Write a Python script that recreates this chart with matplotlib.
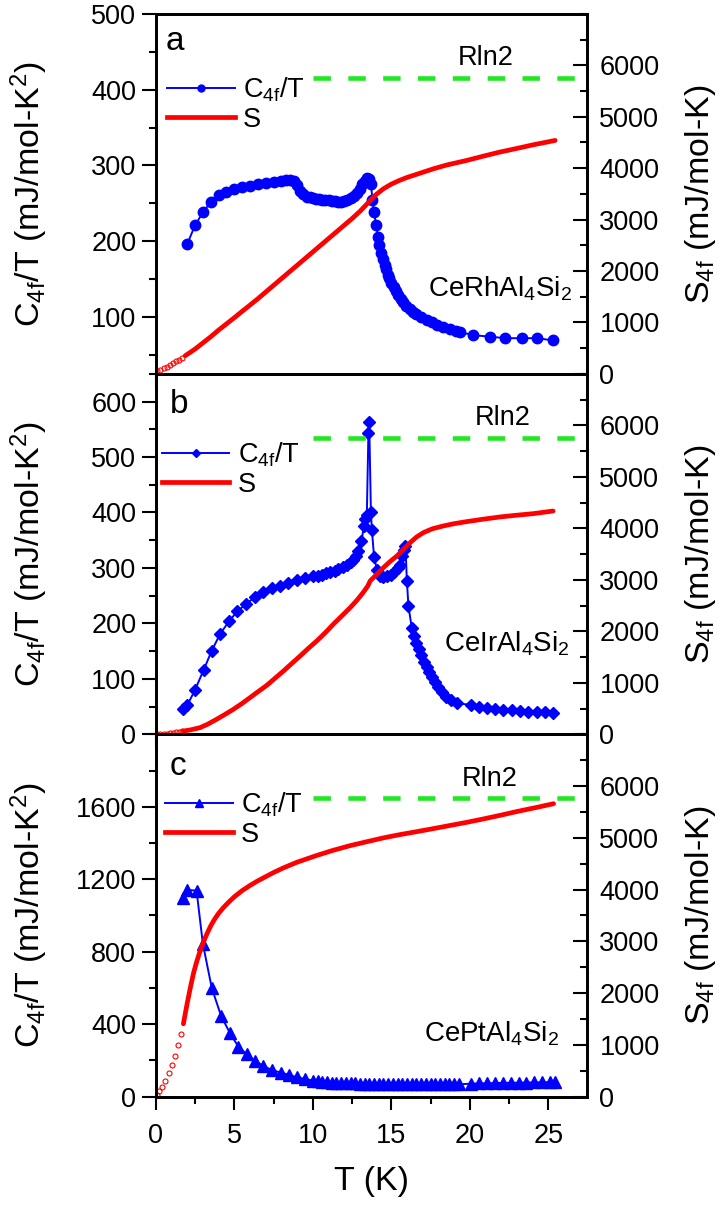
import matplotlib
matplotlib.use('Agg')
import matplotlib.pyplot as plt
from matplotlib.lines import Line2D
from matplotlib.ticker import MultipleLocator, FixedLocator

plt.rcParams['font.family'] = ['Liberation Sans', 'DejaVu Sans']
plt.rcParams['mathtext.default'] = 'regular'

# ---- panel a : CeRhAl4Si2 ----
a_T = [2.0, 2.5, 3.0, 3.5, 4.0, 4.5, 5.0, 5.5, 6.0, 6.5, 7.0, 7.5, 8.0, 8.3, 8.55,
       8.8, 9.0, 9.2, 9.4, 9.6, 9.8, 10.0, 10.2, 10.4, 10.6, 10.8, 11.0, 11.2, 11.4,
       11.6, 11.8, 12.0, 12.2, 12.4, 12.6, 12.8, 13.0, 13.15, 13.3, 13.45, 13.6, 13.7,
       13.8, 13.9, 14.03, 14.15, 14.24, 14.35, 14.46, 14.57, 14.67, 14.78, 14.88, 15.0,
       15.14, 15.3, 15.45, 15.6, 15.77, 15.95, 16.2, 16.4, 16.6, 16.9, 17.26, 17.6,
       17.9, 18.3, 18.75, 19.1, 19.4, 20.2, 21.3, 22.25, 23.3, 24.3, 25.3]
a_C = [196, 221, 238, 252, 261, 265, 269, 271, 273, 275, 277, 278, 280, 281, 281,
       279, 274, 266, 262, 259, 258, 257, 256, 256, 255, 254, 254, 253, 253,
       252, 252, 253, 255, 257, 260, 264, 269, 275, 280, 283, 282, 275,
       255, 238, 221, 206, 195, 185, 177, 169, 163, 156, 151, 145,
       140, 134, 129, 124, 120, 115, 111, 107, 104, 100, 96, 93,
       90, 87, 84, 81, 80, 76, 74, 72, 72, 72, 69]
a_Sx_T = [0.1, 0.3, 0.5, 0.7, 0.9, 1.1, 1.3, 1.5, 1.7]
a_Sx = [45, 75, 105, 140, 170, 205, 240, 275, 310]
a_ST = [1.87, 2.5, 3.0, 3.5, 4.0, 4.5, 5.0, 5.5, 6.0, 6.5, 7.0, 7.5, 8.0, 8.5, 9.0,
        9.5, 10.0, 10.5, 11.0, 11.5, 12.0, 12.5, 13.0, 13.5, 14.0, 14.5, 15.0, 15.5,
        16.0, 16.5, 17.0, 17.7, 18.5, 19.8, 21.0, 21.9, 23.0, 24.05, 25.43]
a_S = [350, 480, 600, 720, 850, 970, 1090, 1215, 1336, 1460, 1590, 1720, 1850, 1980,
       2110, 2240, 2370, 2500, 2630, 2760, 2890, 3020, 3160, 3320, 3480, 3600, 3690,
       3760, 3820, 3870, 3920, 3990, 4060, 4151, 4245, 4313, 4385, 4456, 4540]

# ---- panel b : CeIrAl4Si2 ----
b_T = [1.76, 2.0, 2.5, 3.05, 3.57, 4.1, 4.67, 5.2, 5.75, 6.3, 6.85, 7.4, 7.9, 8.45,
       8.98, 9.5, 10.04, 10.3, 10.57, 10.85, 11.1, 11.4, 11.63, 11.9, 12.17, 12.4,
       12.59, 12.75, 12.9, 13.1, 13.25, 13.33, 13.44, 13.54, 13.59, 13.7, 13.76, 13.9,
       14.08, 14.29, 14.5, 14.75, 15.0, 15.2, 15.4, 15.56, 15.7, 15.8, 15.9, 15.99,
       16.09, 16.3, 16.45, 16.6, 16.75, 16.9, 17.1, 17.26, 17.42, 17.58, 17.8, 18.0,
       18.25, 18.5, 18.8, 19.17, 20.1, 20.6, 21.08, 21.6, 22.14, 22.7, 23.2, 23.7,
       24.27, 24.8, 25.3]
b_C = [45, 52, 80, 116, 151, 181, 204, 222, 235, 247, 256, 263, 268, 272,
       278, 282, 285, 286, 288, 290, 292, 295, 298, 302, 306, 310,
       315, 322, 330, 348, 375, 388, 396, 544, 563, 400, 369, 320,
       297, 286, 284, 285, 288, 293, 300, 306, 322, 333, 339, 276,
       231, 192, 178, 165, 154, 143, 131, 122, 113, 104, 95, 86,
       77, 68, 61, 56, 53, 50, 47, 45, 44, 43, 42, 41,
       41, 40, 38]
b_Sx_T = [0.1, 0.3, 0.5, 0.7, 0.9, 1.1, 1.3, 1.5, 1.7]
b_Sx = [2, 5, 10, 16, 22, 30, 38, 48, 60]
b_ST = [1.76, 2.2, 2.82, 3.3, 3.87, 4.4, 4.94, 5.5, 6.0, 6.5, 7.07, 7.6, 8.13, 8.66,
        9.19, 9.7, 10.25, 10.8, 11.3, 11.85, 12.38, 12.8, 13.2, 13.5, 13.65, 14.0,
        14.5, 14.9, 15.35, 15.8, 16.2, 16.6, 17.04, 17.6, 18.3, 19.0, 19.8, 20.8,
        21.9, 23.0, 24.05, 25.3]
b_S = [64, 85, 130, 195, 291, 385, 485, 600, 712, 825, 951, 1090, 1229, 1375,
       1520, 1665, 1812, 1975, 2136, 2300, 2460, 2600, 2751, 2880, 2977, 3085,
       3237, 3350, 3462, 3600, 3722, 3830, 3916, 3990, 4045, 4090, 4130, 4175,
       4220, 4255, 4285, 4336]

# ---- panel c : CePtAl4Si2 ----
c_T = [1.76, 1.97, 2.6, 3.0, 3.57, 4.16, 4.73, 5.26, 5.8, 6.32, 6.85, 7.39, 7.96,
       8.51, 8.98, 9.51, 10.04, 10.3, 10.6, 10.9, 11.2, 11.5, 11.8, 12.1, 12.4, 12.7,
       13.0, 13.3, 13.6, 13.9, 14.2, 14.5, 14.8, 15.1, 15.4, 15.7, 16.0, 16.3, 16.6,
       16.9, 17.2, 17.5, 17.8, 18.1, 18.4, 18.7, 19.0, 19.3, 20.1, 20.6, 21.1, 21.6,
       22.1, 22.6, 23.1, 23.6, 24.1, 24.6, 25.1, 25.4]
c_C = [1096, 1142, 1137, 844, 599, 446, 350, 276, 234, 197, 170, 147, 133,
       120, 107, 98, 88, 84, 82, 80, 78, 77, 76, 75, 74, 73,
       72, 71, 71, 70, 70, 69, 69, 69, 68, 68, 68, 68, 68,
       68, 68, 68, 68, 68, 68, 68, 68, 68, 72, 73, 74, 75,
       76, 77, 77, 78, 79, 79, 80, 80]
c_Sx_T = [0.06, 0.23, 0.38, 0.59, 0.85, 1.02, 1.23, 1.44, 1.61]
c_Sx = [33, 118, 196, 294, 459, 603, 785, 1001, 1211]
c_ST = [1.76, 2.0, 2.2, 2.4, 2.6, 2.8, 3.0, 3.25, 3.5, 3.75, 4.0, 4.3, 4.65, 5.0,
        5.5, 6.0, 6.5, 7.0, 7.5, 8.13, 9.0, 10.25, 11.3, 12.38, 13.5, 14.5, 15.5,
        16.62, 17.7, 18.75, 19.8, 20.87, 22.0, 23.0, 24.2, 25.33]
c_S = [1407, 1800, 2100, 2380, 2600, 2790, 2960, 3140, 3300, 3430, 3540, 3650, 3760,
       3860, 3980, 4080, 4170, 4250, 4330, 4420, 4530, 4660, 4760, 4850, 4930, 5000,
       5060, 5120, 5180, 5240, 5300, 5366, 5440, 5509, 5585, 5660]

Rln2 = 5763.0
names = ['CeRhAl$_4$Si$_2$', 'CeIrAl$_4$Si$_2$', 'CePtAl$_4$Si$_2$']
letters = ['a', 'b', 'c']

BLUE = '#0000ff'
RED = '#ff0000'
GREEN = '#22e822'
TICK_FS = 19.5
LABEL_FS = 24.5

fig = plt.figure(figsize=(7.21, 12.05), dpi=100)
L, W = 0.216, 0.598
boxes = [(0.6898, 0.2986), (0.3906, 0.2992), (0.0899, 0.3007)]

panels = [
    dict(T=a_T, C=a_C, xT=a_Sx_T, xS=a_Sx, sT=a_ST, S=a_S, mk='o', ms=7.5, lms=5,
         ylim=(25, 500), yt=[100, 200, 300, 400, 500], ymin=50,
         leg=(0.026, 0.75), rl=19.2, name=(0.965, 0.214), let=(0.022, 0.90)),
    dict(T=b_T, C=b_C, xT=b_Sx_T, xS=b_Sx, sT=b_ST, S=b_S, mk='D', ms=6.5, lms=4.5,
         ylim=(0, 650), yt=[0, 100, 200, 300, 400, 500, 600], ymin=50,
         leg=(0.014, 0.736), rl=20.3, name=(0.961, 0.229), let=(0.033, 0.89)),
    dict(T=c_T, C=c_C, xT=c_Sx_T, xS=c_Sx, sT=c_ST, S=c_S, mk='^', ms=8, lms=6,
         ylim=(0, 2000), yt=[0, 400, 800, 1200, 1600], ymin=200,
         leg=(0.022, 0.766), rl=19.5, name=(0.936, 0.152), let=(0.033, 0.889)),
]

for i, p in enumerate(panels):
    ax = fig.add_axes([L, boxes[i][0], W, boxes[i][1]])
    ax2 = ax.twinx()

    ax.plot(p['T'], p['C'], color=BLUE, lw=1.4, marker=p['mk'], ms=p['ms'],
            mfc=BLUE, mec=BLUE)
    ax2.plot(p['xT'], p['xS'], ls='none', marker='o', ms=3.6, mfc='none',
             mec=RED, mew=0.8)
    ax2.plot(p['sT'], p['S'], color=RED, lw=3.4, solid_capstyle='round')
    ax2.plot([10, 27.5], [Rln2, Rln2], color=GREEN, lw=3.3, ls=(0, (3.8, 3.8)))
    ax2.text(p['rl'], 6000, 'Rln2', fontsize=19.5, va='baseline', ha='left')

    ax.set_xlim(0, 27.45)
    ax.set_ylim(*p['ylim'])
    ax2.set_ylim(0, 7000)
    ax.xaxis.set_major_locator(MultipleLocator(5))
    ax.xaxis.set_minor_locator(MultipleLocator(2.5))
    ax.yaxis.set_major_locator(FixedLocator(p['yt']))
    ax.yaxis.set_minor_locator(MultipleLocator(p['ymin']))
    ax2.yaxis.set_major_locator(FixedLocator([0, 1000, 2000, 3000, 4000, 5000, 6000]))
    ax2.yaxis.set_minor_locator(MultipleLocator(500))

    # bottom ticks outward (main axes), top ticks inward (twin axes)
    ax.tick_params(axis='x', which='both', direction='out', bottom=True, top=False,
                   labelsize=TICK_FS, width=1.5, pad=10)
    ax.tick_params(axis='x', which='major', length=9)
    ax.tick_params(axis='x', which='minor', length=5)
    ax2.tick_params(axis='x', which='both', direction='in', top=True, bottom=False,
                    labeltop=False, labelbottom=False, width=1.5)
    ax2.tick_params(axis='x', which='major', length=9)
    ax2.tick_params(axis='x', which='minor', length=5)

    ax.tick_params(axis='y', which='both', direction='out', labelsize=TICK_FS,
                   width=1.5, pad=4)
    ax.tick_params(axis='y', which='major', length=10)
    ax.tick_params(axis='y', which='minor', length=5)
    ax2.tick_params(axis='y', which='both', direction='in', labelsize=TICK_FS,
                    width=1.5, pad=9)
    ax2.tick_params(axis='y', which='major', length=10)
    ax2.tick_params(axis='y', which='minor', length=5)

    for sp in list(ax.spines.values()) + list(ax2.spines.values()):
        sp.set_linewidth(2)

    if i < 2:
        ax.tick_params(axis='x', labelbottom=False)
    else:
        ax.set_xlabel('T (K)', fontsize=LABEL_FS, labelpad=12)

    ax.set_ylabel('C$_{4f}$/T (mJ/mol-K$^{2}$)', fontsize=LABEL_FS)
    ax.yaxis.set_label_coords(-0.245, 0.5)
    ax2.set_ylabel('S$_{4f}$ (mJ/mol-K)', fontsize=LABEL_FS)
    ax2.yaxis.set_label_coords(1.222, 0.5)

    ax.text(p['let'][0], p['let'][1], letters[i], transform=ax.transAxes,
            fontsize=24, va='baseline', ha='left')
    ax.text(p['name'][0], p['name'][1], names[i], transform=ax.transAxes,
            fontsize=20, va='baseline', ha='right')

    handles = [Line2D([], [], color=BLUE, lw=1.4, marker=p['mk'], ms=p['lms']),
               Line2D([], [], color=RED, lw=3.4)]
    ax2.legend(handles, ['C$_{4f}$/T', 'S'], loc='center left',
               bbox_to_anchor=p['leg'], frameon=False, fontsize=19.5,
               handlelength=2.5, handletextpad=0.3, labelspacing=0.1,
               borderpad=0, borderaxespad=0)

fig.savefig('out.png', dpi=100)
